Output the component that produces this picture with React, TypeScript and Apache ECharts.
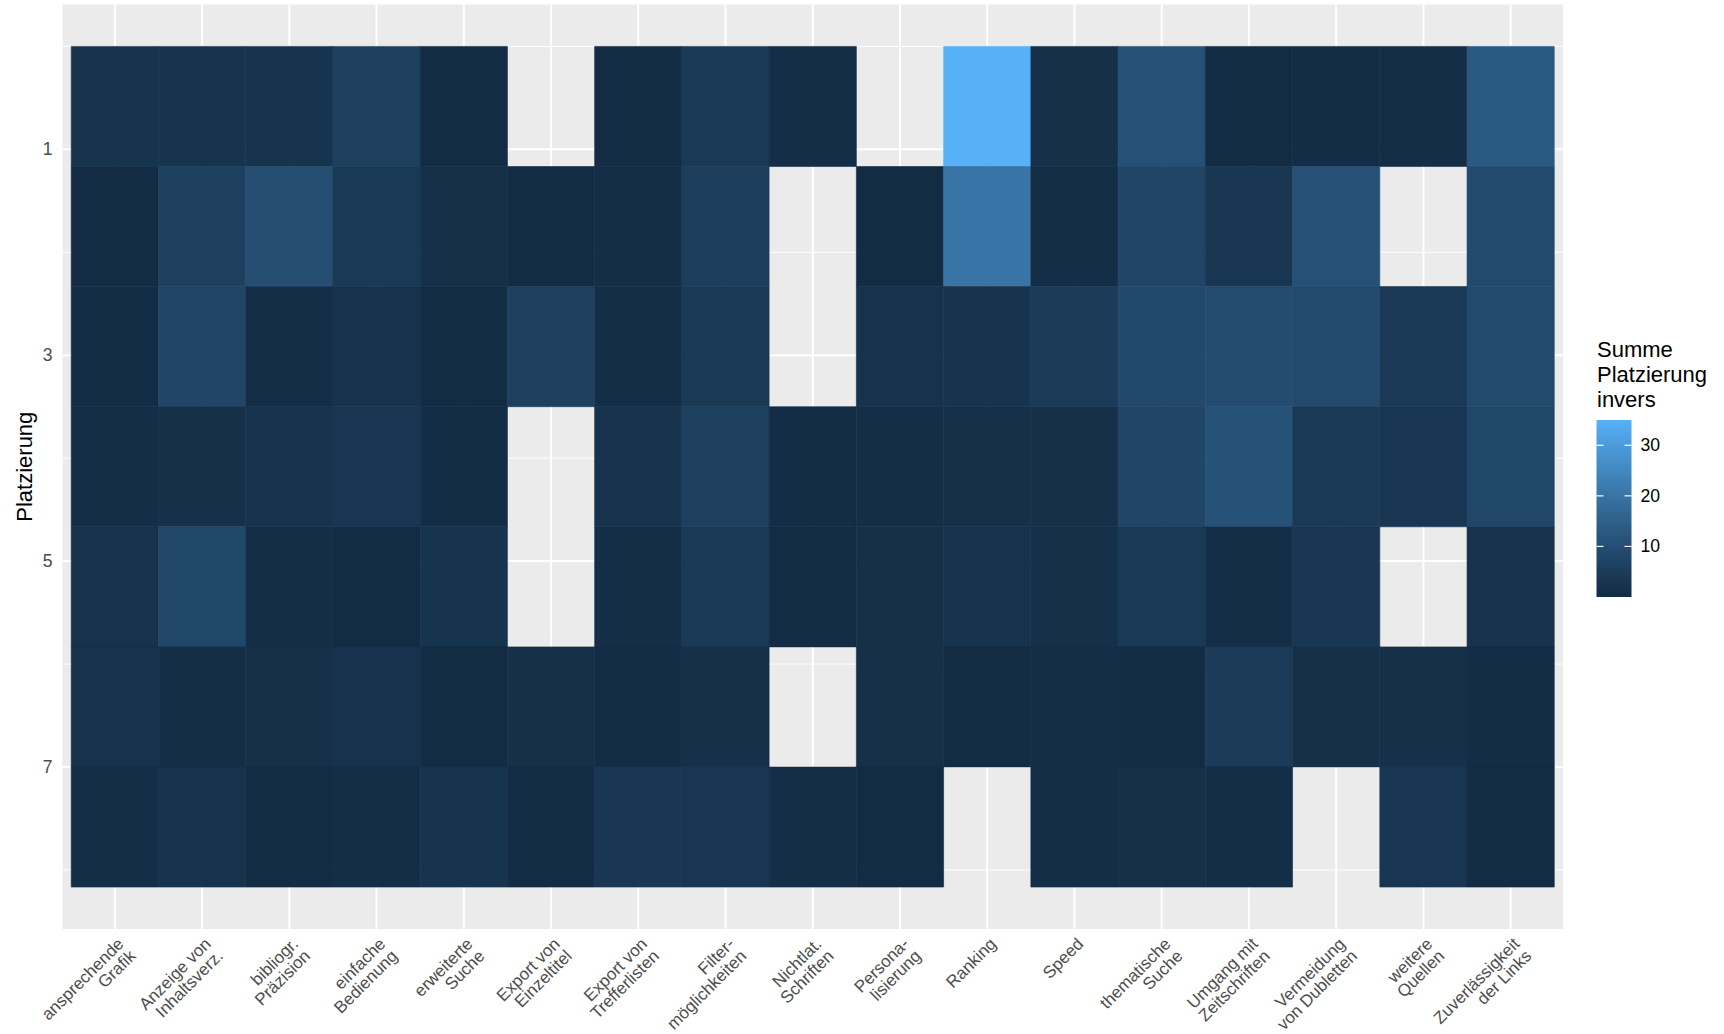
import React, { useEffect, useRef } from "react";
import * as echarts from "echarts";

// ---------- data ----------
const CATEGORIES = [
  "ansprechende\nGrafik",
  "Anzeige von\nInhaltsverz.",
  "bibliogr.\nPräzision",
  "einfache\nBedienung",
  "erweiterte\nSuche",
  "Export von\nEinzeltitel",
  "Export von\nTrefferlisten",
  "Filter-\nmöglichkeiten",
  "Nichtlat.\nSchriften",
  "Persona-\nlisierung",
  "Ranking",
  "Speed",
  "thematische\nSuche",
  "Umgang mit\nZeitschriften",
  "Vermeidung\nvon Dubletten",
  "weitere\nQuellen",
  "Zuverlässigkeit\nder Links",
];

// Summe Platzierung invers, one array per Platzierung (1 = top row); null = no tile
const ROW_1 = [2.5, 2.5, 2.5, 6, 0, null, 0, 4, 1, null, 35, 1.5, 10.5, 0, 0.5, 1, 13];
const ROW_2 = [0, 6, 10, 4, 1.5, 0, 1, 5.5, null, 0, 20, 1, 7.5, 3, 10.5, null, 9];
const ROW_3 = [0.5, 7.5, 1, 2, 0, 6, 1, 4, null, 2, 2.5, 4.5, 8.5, 9.5, 9, 4, 9];
const ROW_4 = [1, 1.5, 2, 3, 0.5, null, 2, 6, 0.5, 1, 1.5, 1.5, 7.5, 11, 4, 3, 8];
const ROW_5 = [2, 8, 1, 0, 2.5, null, 1, 4, 0, 1.5, 2, 1.5, 4, 1, 3.5, null, 2];
const ROW_6 = [2, 1, 1.5, 2, 0, 1.5, 0, 1.5, null, 1.5, 0, 1, 0, 4.5, 1.5, 1.5, 0.5];
const ROW_7 = [1, 2, 0, 1, 2.5, 0, 3.5, 3, 1, 0, null, 1, 1.5, 1, null, 3, 0];
const ROWS = [ROW_1, ROW_2, ROW_3, ROW_4, ROW_5, ROW_6, ROW_7];

const Y_TICKS = [1, 3, 5, 7];
const Y_MINOR = [0, 2, 4, 6, 8];
const LEGEND_TICKS = [10, 20, 30];
const VALUE_MIN = 0;
const VALUE_MAX = 35;
const LEGEND_TITLE = "Summe\nPlatzierung\ninvers";
const Y_TITLE = "Platzierung";

// ---------- style ----------
const FONT = '"Liberation Sans", Arial, Helvetica, sans-serif';
const LOW = "#132B43";
const HIGH = "#56B1F7";
const TILE_SPAN = 7 / 6;

// Lab interpolation (like ggplot2 scale_fill_gradient)
function toLin(c: number) {
  c /= 255;
  return c <= 0.04045 ? c / 12.92 : Math.pow((c + 0.055) / 1.055, 2.4);
}
function fromLin(c: number) {
  const v = c <= 0.0031308 ? 12.92 * c : 1.055 * Math.pow(c, 1 / 2.4) - 0.055;
  return Math.round(Math.max(0, Math.min(1, v)) * 255);
}
function hexToLab(hex: string) {
  const r = toLin(parseInt(hex.slice(1, 3), 16));
  const g = toLin(parseInt(hex.slice(3, 5), 16));
  const b = toLin(parseInt(hex.slice(5, 7), 16));
  const X = (0.4124564 * r + 0.3575761 * g + 0.1804375 * b) / 0.95047;
  const Y = 0.2126729 * r + 0.7151522 * g + 0.072175 * b;
  const Z = (0.0193339 * r + 0.119192 * g + 0.9503041 * b) / 1.08883;
  const f = (t: number) => (t > 0.008856 ? Math.cbrt(t) : 7.787 * t + 16 / 116);
  const fx = f(X), fy = f(Y), fz = f(Z);
  return [116 * fy - 16, 500 * (fx - fy), 200 * (fy - fz)];
}
function labToHex(L: number, a: number, bb: number) {
  const fy = (L + 16) / 116;
  const fx = fy + a / 500;
  const fz = fy - bb / 200;
  const inv = (t: number) => (t * t * t > 0.008856 ? t * t * t : (t - 16 / 116) / 7.787);
  const X = inv(fx) * 0.95047, Y = inv(fy), Z = inv(fz) * 1.08883;
  const r = 3.2404542 * X - 1.5371385 * Y - 0.4985314 * Z;
  const g = -0.969266 * X + 1.8760108 * Y + 0.041556 * Z;
  const b = 0.0556434 * X - 0.2040259 * Y + 1.0572252 * Z;
  const h = (n: number) => n.toString(16).padStart(2, "0");
  return "#" + h(fromLin(r)) + h(fromLin(g)) + h(fromLin(b));
}
const LAB_LO = hexToLab(LOW);
const LAB_HI = hexToLab(HIGH);
function rampColor(t: number) {
  return labToHex(
    LAB_LO[0] + (LAB_HI[0] - LAB_LO[0]) * t,
    LAB_LO[1] + (LAB_HI[1] - LAB_LO[1]) * t,
    LAB_LO[2] + (LAB_HI[2] - LAB_LO[2]) * t
  );
}
const NSTOPS = 36;
const RAMP = Array.from({ length: NSTOPS }, (_, i) => rampColor(i / (NSTOPS - 1)));

export default function App() {
  const ref = useRef<HTMLDivElement>(null);

  useEffect(() => {
    if (!ref.current) return;
    const chart = echarts.init(ref.current, null, { renderer: "svg" });

    const xIdx = CATEGORIES.map((_, i) => i);
    const tileData: number[][] = [];
    ROWS.forEach((row, r) => {
      row.forEach((v, c) => {
        if (v !== null && v !== undefined) tileData.push([c, r + 1, v as number]);
      });
    });

    const gridData: number[][] = [];
    xIdx.forEach((x) => gridData.push([0, x]));
    Y_MINOR.forEach((y) => gridData.push([2, y]));
    Y_TICKS.forEach((y) => gridData.push([1, y]));

    // legend geometry
    const barX = 1596.5, barY = 420, barW = 35, barH = 177;
    const vToBar = (v: number) => barY + (1 - (v - VALUE_MIN) / (VALUE_MAX - VALUE_MIN)) * barH;
    const legendGraphics: any[] = [
      {
        type: "rect",
        shape: { x: barX, y: barY, width: barW, height: barH },
        style: {
          fill: {
            type: "linear", x: 0, y: 0, x2: 0, y2: 1,
            colorStops: RAMP.map((c, i) => ({ offset: 1 - i / (NSTOPS - 1), color: c })).reverse(),
          },
        },
      },
      {
        type: "text",
        x: 1597,
        y: 336.5,
        style: {
          text: LEGEND_TITLE, fontSize: 22, fontFamily: FONT, fill: "#000",
          align: "left", verticalAlign: "top", lineHeight: 25.3,
        },
      },
      {
        type: "text",
        x: 24.5,
        y: 466.7,
        rotation: Math.PI / 2,
        style: {
          text: Y_TITLE, fontSize: 22, fontFamily: FONT, fill: "#000",
          align: "center", verticalAlign: "middle",
        },
      },
    ];
    LEGEND_TICKS.forEach((v) => {
      const y = vToBar(v);
      legendGraphics.push(
        { type: "line", shape: { x1: barX, y1: y, x2: barX + 7, y2: y }, style: { stroke: "#fff", lineWidth: 1.2 } },
        { type: "line", shape: { x1: barX + barW - 7, y1: y, x2: barX + barW, y2: y }, style: { stroke: "#fff", lineWidth: 1.2 } },
        {
          type: "text", x: barX + barW + 9, y,
          style: { text: String(v), fontSize: 17.6, fontFamily: FONT, fill: "#000", align: "left", verticalAlign: "middle" },
        }
      );
    });

    const option: any = {
      animation: false,
      backgroundColor: "#ffffff",
      grid: {
        left: 62.5, top: 4.4, width: 1500.5, height: 924.7,
        show: true, backgroundColor: "#EBEBEB", borderWidth: 0,
        containLabel: false, outerBoundsMode: "none",
      },
      xAxis: {
        type: "value",
        min: -0.6,
        max: CATEGORIES.length - 1 + 0.6,
        axisLine: { show: false },
        splitLine: { show: false },
        axisTick: { show: true, customValues: xIdx, length: 5.5, lineStyle: { color: "#333333", width: 2 } },
        axisLabel: {
          customValues: xIdx,
          formatter: (v: number) => CATEGORIES[Math.round(v)] ?? "",
          rotate: 45, align: "right", verticalAlign: "top", margin: 6,
          fontSize: 17, lineHeight: 17, color: "#4D4D4D", fontFamily: FONT,
        },
      },
      yAxis: {
        type: "value",
        inverse: true,
        min: -0.4083,
        max: 8.575,
        axisLine: { show: false },
        splitLine: { show: false },
        axisTick: { show: true, customValues: Y_TICKS, length: 5.5, lineStyle: { color: "#333333", width: 2 } },
        axisLabel: {
          customValues: Y_TICKS, margin: 10,
          fontSize: 17.6, color: "#4D4D4D", fontFamily: FONT,
        },
      },
      visualMap: {
        type: "continuous",
        show: false,
        min: VALUE_MIN,
        max: VALUE_MAX,
        dimension: 2,
        seriesIndex: 1,
        inRange: { color: RAMP },
      },
      graphic: legendGraphics,
      series: [
        {
          type: "custom",
          z: 1,
          silent: true,
          data: gridData,
          encode: { x: 1 },
          renderItem: (params: any, api: any) => {
            const kind = api.value(0);
            const v = api.value(1);
            const cs = params.coordSys;
            if (kind === 0) {
              const x = api.coord([v, 0])[0];
              return { type: "line", shape: { x1: x, y1: cs.y, x2: x, y2: cs.y + cs.height }, style: { stroke: "#fff", lineWidth: 2 } };
            }
            const y = api.coord([0, v])[1];
            return {
              type: "line",
              shape: { x1: cs.x, y1: y, x2: cs.x + cs.width, y2: y },
              style: { stroke: "#fff", lineWidth: kind === 1 ? 2 : 1 },
            };
          },
        },
        {
          type: "custom",
          z: 2,
          data: tileData,
          encode: { x: 0, y: 1 },
          renderItem: (params: any, api: any) => {
            const c = api.value(0);
            const r = api.value(1);
            const p0 = api.coord([c - 0.5, (r - 1) * TILE_SPAN]);
            const p1 = api.coord([c + 0.5, r * TILE_SPAN]);
            const color = api.visual("color");
            return {
              type: "rect",
              shape: {
                x: Math.min(p0[0], p1[0]),
                y: Math.min(p0[1], p1[1]),
                width: Math.abs(p1[0] - p0[0]),
                height: Math.abs(p1[1] - p0[1]),
              },
              style: { fill: color, stroke: color, lineWidth: 0.6 },
            };
          },
        },
      ],
    };

    chart.setOption(option);
    return () => chart.dispose();
  }, []);

  return (
    <div
      ref={ref}
      style={{ position: "fixed", left: 0, top: 0, width: 1724, height: 1034, background: "#fff" }}
    />
  );
}
